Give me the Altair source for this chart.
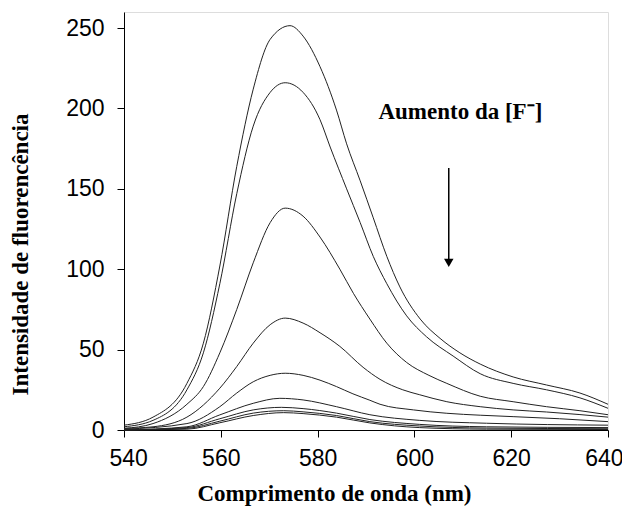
import altair as alt
import pandas as pd

# Wavelength sample points (nm) and intensities for each spectrum
x1 = [540, 546, 553, 556.4, 559.8, 563.3, 566.7, 570.2, 574.3, 577, 580.5, 583.9, 586, 588.8, 591.5, 594.3, 597, 601.2, 605.3, 609.4, 613.6, 620.4, 627.3, 634.2, 640]
y1 = [3, 8, 29, 54, 102, 164, 212, 243, 251.5, 245, 226, 199, 178, 155, 132, 108, 89, 69, 57, 48, 41, 33, 28, 23, 16]

x2 = [540, 546, 553, 556.4, 559.8, 563.3, 566.7, 570.2, 573.3, 577, 580.5, 582.6, 586, 588.8, 591.5, 594.3, 598.4, 602.5, 608, 613.6, 620.4, 627.3, 634.2, 640]
y2 = [2, 6, 25, 48, 91, 147, 189, 210, 216, 210, 193, 176, 150, 129, 108, 91, 71, 58, 46, 35, 29, 25, 20, 13.5]

x3 = [540, 546, 553, 556.4, 559.8, 563.3, 566.7, 570.2, 573.3, 577, 580.5, 584.6, 587.4, 590.8, 594.3, 598.4, 603, 606.7, 613.6, 620.4, 627.3, 634.2, 640]
y3 = [1, 4, 16, 27, 48, 75, 104, 129, 138, 133, 120, 100, 85, 69, 54, 42, 34, 29, 21, 17.6, 14.5, 12, 9.5]

x4 = [540, 546, 553, 559.8, 563.3, 566.7, 570.2, 573.3, 577, 580.5, 584.6, 589.4, 592.9, 597.6, 601, 606.7, 613.6, 620.4, 627.3, 634.2, 640]
y4 = [1, 2, 8, 26, 39.5, 54, 65.5, 69.6, 66.5, 60.5, 52, 39, 31.5, 25, 22, 17.6, 14.5, 12.5, 11.2, 9.6, 8]

x5 = [540, 553, 559.8, 563.3, 566.7, 570.2, 573.3, 577, 580.5, 583.9, 587.3, 590.8, 592.9, 599.8, 606.7, 613.6, 620.4, 630, 640]
y5 = [0.5, 4, 14.5, 23, 30, 34, 35.3, 34, 31, 27, 22.5, 18.5, 16, 12.5, 10.4, 9.2, 8.3, 7, 5.2]

x6 = [540, 553, 559.8, 566.7, 572.2, 577, 583.9, 590.8, 601, 614.9, 640]
y6 = [0, 2, 9.4, 16.6, 19.7, 18.7, 14.5, 9.5, 6, 4.2, 3]

x7 = [540, 553, 559.8, 566.7, 572.5, 577, 583.9, 590.8, 601, 614.9, 640]
y7 = [0, 1.5, 7, 12.5, 14.1, 13.3, 10.5, 6.5, 3.5, 2, 1.5]

x8 = [540, 553, 559.8, 566.7, 573, 577, 583.9, 590.8, 601, 614.9, 640]
y8 = [0, 1, 5.5, 10.5, 12, 11.3, 9, 5.2, 2.5, 1.2, 0.8]

x9 = [540, 553, 559.8, 566.7, 573, 577, 583.9, 590.8, 601, 614.9, 640]
y9 = [0, 0.5, 4.5, 9, 10.8, 10.2, 8, 4.4, 1.5, 0.5, 0.3]

series = [(x1, y1), (x2, y2), (x3, y3), (x4, y4), (x5, y5), (x6, y6), (x7, y7), (x8, y8), (x9, y9)]

x_ticks = [540, 560, 580, 600, 620, 640]
y_ticks = [0, 50, 100, 150, 200, 250]

annot_text = ["Aumento da [F\u207b]"]
annot_x = [609.5]
annot_y = [198]
arrow_x = [607.1]
arrow_top = [163]
arrow_bottom = [104]

rows = []
for i, (xs, ys) in enumerate(series):
    for xv, yv in zip(xs, ys):
        rows.append({"s": i, "nm": xv, "I": yv})
df = pd.DataFrame(rows)

xs_ = alt.Scale(domain=[540, 640], nice=False, zero=False)
ys_ = alt.Scale(domain=[0, 260], nice=False)

lines = alt.Chart(df).mark_line(color="#222", strokeWidth=1, interpolate="monotone").encode(
    x=alt.X("nm:Q", scale=xs_,
            axis=alt.Axis(values=x_ticks, title="Comprimento de onda (nm)", grid=False,
                          tickSize=7, tickColor="#000", domainColor="#000",
                          labelFont="Liberation Sans", labelFontSize=23, labelColor="#000",
                          labelPadding=10, labelFlush=True, labelFlushOffset=15,
                          titleFont="Liberation Serif", titleFontSize=23,
                          titleFontWeight="bold", titleColor="#000", titlePadding=12,
                          titleX=210)),
    y=alt.Y("I:Q", scale=ys_,
            axis=alt.Axis(values=y_ticks, title="Intensidade de fluorencência", grid=False,
                          tickSize=7, tickColor="#000", domainColor="#000",
                          labelFont="Liberation Sans", labelFontSize=23, labelColor="#000",
                          labelPadding=13, labelFlush=False,
                          titleFont="Liberation Serif", titleFontSize=23,
                          titleFontWeight="bold", titleColor="#000", titlePadding=33,
                          titleY=242)),
    detail="s:N",
)

adf = pd.DataFrame({"t": annot_text, "x": annot_x, "y": annot_y})
text = alt.Chart(adf).mark_text(font="Liberation Serif", fontSize=23, fontWeight="bold",
                                color="#000", align="center", baseline="middle").encode(
    x=alt.X("x:Q", scale=xs_), y=alt.Y("y:Q", scale=ys_), text="t:N")

arr = pd.DataFrame({"x": arrow_x, "y1": arrow_top, "y2": arrow_bottom})
rule = alt.Chart(arr).mark_rule(color="#000", strokeWidth=1.5).encode(
    x=alt.X("x:Q", scale=xs_), y=alt.Y("y1:Q", scale=ys_), y2="y2:Q")
head = alt.Chart(arr).mark_point(shape="triangle-down", filled=True, color="#000", size=90, opacity=1).encode(
    x=alt.X("x:Q", scale=xs_), y=alt.Y("y2:Q", scale=ys_))

chart = alt.layer(lines, rule, head, text).properties(
    width=484, height=418,
    autosize=alt.AutoSizeParams(type="none"),
    padding={"left": 116, "top": 4, "right": 14, "bottom": 76},
).configure_view(stroke="#000", strokeWidth=1.2).configure(background="white")

chart.save("out.html", embed_options={"renderer": "svg", "actions": False})
